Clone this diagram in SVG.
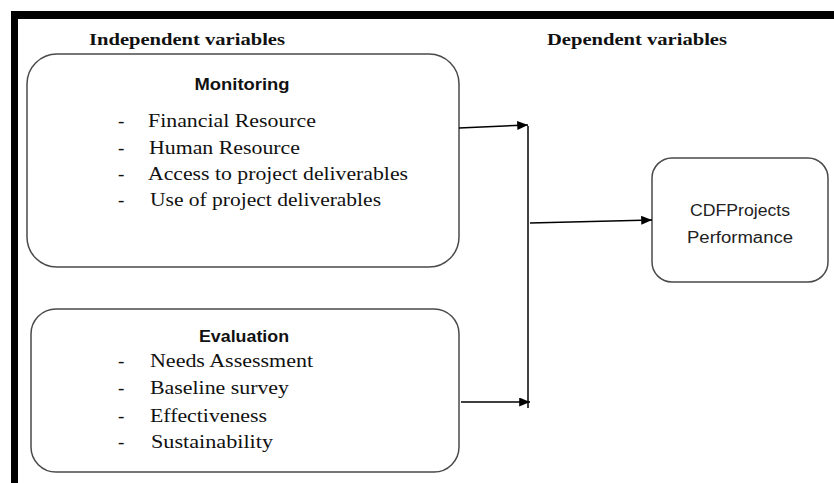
<svg xmlns="http://www.w3.org/2000/svg" width="834" height="483" viewBox="0 0 834 483">
<style>
.box{fill:#fff;stroke:#4a4a4a;stroke-width:1.5}
.hdr{font-family:"Liberation Serif",serif;font-weight:bold;font-size:16px;fill:#111}
.ttl{font-family:"Liberation Sans",sans-serif;font-weight:bold;font-size:16px;fill:#111;text-anchor:middle}
.itm{font-family:"Liberation Serif",serif;font-size:19px;fill:#111}
.dep{font-family:"Liberation Sans",sans-serif;font-size:16px;fill:#222;text-anchor:middle}
.con{stroke:#000;stroke-width:1.5;fill:none}
</style>
<defs>
<marker id="ah" viewBox="0 0 12 10" refX="12" refY="5" markerWidth="12" markerHeight="9" markerUnits="userSpaceOnUse" orient="auto">
<path d="M0,0 L12,5 L0,10 Z" fill="#000"/>
</marker>
</defs>
<rect width="834" height="483" fill="#fff"/>
<g id="frame">
<rect x="11" y="11" width="823" height="8" fill="#000"/>
<rect x="11" y="11" width="7" height="472" fill="#000"/>
</g>
<text class="hdr" x="89" y="45" textLength="196" lengthAdjust="spacingAndGlyphs">Independent variables</text>
<text class="hdr" x="547" y="45" textLength="180" lengthAdjust="spacingAndGlyphs">Dependent variables</text>
<g id="monitoring">
<rect class="box" x="27" y="54" width="432" height="213" rx="30" ry="30"/>
<text class="ttl" x="242" y="90" textLength="95" lengthAdjust="spacingAndGlyphs">Monitoring</text>
<text class="itm" x="118" y="127">-</text>
<text class="itm" x="148" y="127" textLength="168" lengthAdjust="spacingAndGlyphs">Financial Resource</text>
<text class="itm" x="118" y="154">-</text>
<text class="itm" x="149" y="154" textLength="151" lengthAdjust="spacingAndGlyphs">Human Resource</text>
<text class="itm" x="118" y="180">-</text>
<text class="itm" x="148" y="180" textLength="260" lengthAdjust="spacingAndGlyphs">Access to project deliverables</text>
<text class="itm" x="118" y="206">-</text>
<text class="itm" x="150" y="206" textLength="231" lengthAdjust="spacingAndGlyphs">Use of project deliverables</text>
</g>
<g id="evaluation">
<rect class="box" x="31" y="309" width="428" height="163" rx="25" ry="25"/>
<text class="ttl" x="244" y="342" textLength="90" lengthAdjust="spacingAndGlyphs">Evaluation</text>
<text class="itm" x="118" y="367">-</text>
<text class="itm" x="150" y="367" textLength="163" lengthAdjust="spacingAndGlyphs">Needs Assessment</text>
<text class="itm" x="118" y="394">-</text>
<text class="itm" x="150" y="394" textLength="139" lengthAdjust="spacingAndGlyphs">Baseline survey</text>
<text class="itm" x="118" y="422">-</text>
<text class="itm" x="150" y="422" textLength="117" lengthAdjust="spacingAndGlyphs">Effectiveness</text>
<text class="itm" x="118" y="448">-</text>
<text class="itm" x="151" y="448" textLength="122" lengthAdjust="spacingAndGlyphs">Sustainability</text>
</g>
<g id="performance">
<rect class="box" x="652" y="158" width="176" height="124" rx="20" ry="20"/>
<text class="dep" x="740" y="216" textLength="100" lengthAdjust="spacingAndGlyphs">CDFProjects</text>
<text class="dep" x="740" y="243" textLength="106" lengthAdjust="spacingAndGlyphs">Performance</text>
</g>
<g id="connectors">
<line class="con" x1="459" y1="128" x2="528" y2="125" marker-end="url(#ah)"/>
<line class="con" x1="461" y1="402" x2="530" y2="402" marker-end="url(#ah)"/>
<line class="con" x1="528" y1="126" x2="528" y2="408"/>
<line class="con" x1="530" y1="223" x2="652" y2="220" marker-end="url(#ah)"/>
</g>
</svg>
